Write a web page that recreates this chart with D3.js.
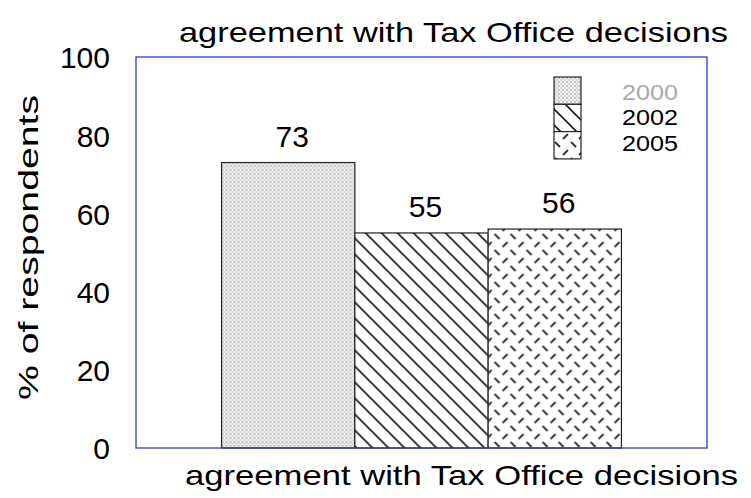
<!DOCTYPE html>
<html>
<head>
<meta charset="utf-8">
<script src="https://cdn.jsdelivr.net/npm/d3@7"></script>
<style>
  body { margin: 0; background: #fff; }
  text { font-family: "Liberation Sans", Arial, sans-serif; }
</style>
</head>
<body>
<script>
// chart data
var categories = ["agreement with Tax Office decisions"];
var years = ["2000", "2002", "2005"];
var values = [73, 55, 56];
var yTicks = [0, 20, 40, 60, 80, 100];

var width = 751, height = 498;
var margin = { top: 57, right: 44, bottom: 50, left: 136 };
var plotW = width - margin.left - margin.right,
    plotH = height - margin.top - margin.bottom;

var svg = d3.select("body").append("svg")
    .attr("width", width)
    .attr("height", height);

// patterns for each year
var defs = svg.append("defs");

var p0 = defs.append("pattern").attr("id", "pat2000")
    .attr("patternUnits", "userSpaceOnUse").attr("width", 4).attr("height", 4);
p0.append("rect").attr("width", 4).attr("height", 4).attr("fill", "#ececec");
p0.append("rect").attr("width", 2).attr("height", 2).attr("fill", "#c8c8c8");
p0.append("rect").attr("x", 2).attr("y", 2).attr("width", 2).attr("height", 2).attr("fill", "#d8d8d8");

var p1 = defs.append("pattern").attr("id", "pat2002")
    .attr("patternUnits", "userSpaceOnUse").attr("width", 16).attr("height", 16);
p1.append("rect").attr("width", 16).attr("height", 16).attr("fill", "#fff");
p1.append("path").attr("d", "M0,0L16,16M-8,8L8,24M8,-8L24,8")
    .attr("stroke", "#1a1a1a").attr("stroke-width", 1.6);

var p2 = defs.append("pattern").attr("id", "pat2005")
    .attr("patternUnits", "userSpaceOnUse").attr("width", 16).attr("height", 16);
p2.append("rect").attr("width", 16).attr("height", 16).attr("fill", "#fff");
p2.append("path").attr("d", "M1,1L6,6M9,14L14,9")
    .attr("stroke", "#333").attr("stroke-width", 1.9);

var fills = ["url(#pat2000)", "url(#pat2002)", "url(#pat2005)"];

var g = svg.append("g")
    .attr("transform", "translate(" + margin.left + "," + margin.top + ")");

var x0 = d3.scaleBand().domain(categories).range([0, plotW]).paddingInner(0).paddingOuter(0.214);
var x1 = d3.scaleBand().domain(years).range([0, x0.bandwidth()]);
var y = d3.scaleLinear().domain([0, 100]).range([plotH, 0]);

// bars
var groups = g.selectAll(".cat")
    .data(categories)
    .enter().append("g")
    .attr("transform", function(d) { return "translate(" + x0(d) + ",0)"; });

groups.selectAll("rect")
    .data(years)
    .enter().append("rect")
    .attr("x", function(d) { return x1(d); })
    .attr("y", function(d, i) { return y(values[i]); })
    .attr("width", x1.bandwidth())
    .attr("height", function(d, i) { return plotH - y(values[i]); })
    .attr("fill", function(d, i) { return fills[i]; })
    .attr("stroke", "#222")
    .attr("stroke-width", 1.2);

groups.selectAll(".val")
    .data(years)
    .enter().append("text")
    .attr("x", function(d) { return x1(d) + x1.bandwidth() / 2 + 4; })
    .attr("y", function(d, i) { return y(values[i]) - 16; })
    .attr("text-anchor", "middle")
    .style("font-size", "30px")
    .text(function(d, i) { return values[i]; });

// frame
g.append("rect")
    .attr("width", plotW).attr("height", plotH)
    .attr("fill", "none")
    .attr("stroke", "#3333dd")
    .attr("stroke-width", 1.3);

// y axis
var yAxis = g.append("g")
    .call(d3.axisLeft(y).tickValues(yTicks).tickSize(0).tickPadding(26));
yAxis.select(".domain").remove();
yAxis.selectAll("text")
    .style("font-size", "30px")
    .attr("fill", "#000")
    .attr("dy", "0.36em");

// titles
svg.append("text")
    .attr("x", 179).attr("y", 42)
    .attr("textLength", 549)
    .attr("lengthAdjust", "spacingAndGlyphs")
    .style("font-size", "28px")
    .text(categories[0]);

svg.append("text")
    .attr("x", 185).attr("y", 485)
    .attr("textLength", 553)
    .attr("lengthAdjust", "spacingAndGlyphs")
    .style("font-size", "28px")
    .text(categories[0]);

svg.append("text")
    .attr("transform", "translate(38,400) rotate(-90)")
    .attr("textLength", 305)
    .attr("lengthAdjust", "spacingAndGlyphs")
    .style("font-size", "28px")
    .text("% of respondents");

// legend
var legend = svg.append("g").attr("transform", "translate(554,77)");
var legColors = ["#aaaaaa", "#000", "#000"];
legend.selectAll("rect")
    .data(years)
    .enter().append("rect")
    .attr("x", 0)
    .attr("y", function(d, i) { return i * 27.3; })
    .attr("width", 27)
    .attr("height", 27.3)
    .attr("fill", function(d, i) { return fills[i]; })
    .attr("stroke", "#222")
    .attr("stroke-width", 1.2);
legend.selectAll("text")
    .data(years)
    .enter().append("text")
    .attr("x", 68)
    .attr("y", function(d, i) { return 23 + i * 25.3; })
    .attr("fill", function(d, i) { return legColors[i]; })
    .style("font-size", "22px")
    .attr("textLength", 56)
    .attr("lengthAdjust", "spacingAndGlyphs")
    .text(function(d) { return d; });
</script>
</body>
</html>
